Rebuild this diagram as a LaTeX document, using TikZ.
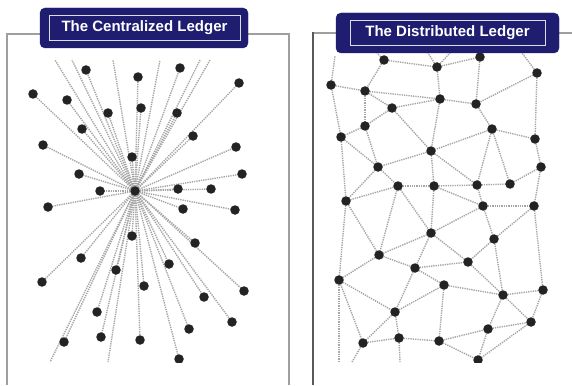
\documentclass[tikz,border=0pt]{standalone}
\usepackage{fontspec}
\setsansfont{Liberation Sans}
\usetikzlibrary{backgrounds}
\definecolor{navy}{RGB}{31,29,112}
\definecolor{dotc}{RGB}{35,35,35}
\definecolor{linkc}{RGB}{165,165,165}
\tikzset{
  dotnode/.style={circle,fill=dotc,draw=none,minimum size=9.5pt,inner sep=0pt},
  link/.style={draw=linkc,line width=1.4pt,dash pattern=on 1.3pt off 1pt},
  titlebox/.style={fill=navy,draw=navy,rounded corners=5pt},
  titleinner/.style={draw=white!85!navy,line width=0.8pt},
  titletext/.style={text=white,font=\sffamily\bfseries\fontsize{15}{17}\selectfont},
  lightframe/.style={draw=gray!75,line width=1.4pt},
  darkframe/.style={draw=black!65,line width=1.8pt}
}
\begin{document}
\begin{tikzpicture}[x=1pt,y=-1pt]
\useasboundingbox[fill=white] (0,0) rectangle (572,385);
% frames
\draw[lightframe] (7,385) -- (7,34) -- (289,34) -- (289,385);
\draw[lightframe] (313,33) -- (572,33);
\draw[darkframe] (313,385) -- (313,32);

\begin{scope}
\clip (0,0) rectangle (572,362);
% ---------- centralized ----------
\coordinate (hub) at (135,191);
\foreach \n/\x/\y in {1/86/70,2/138/77,3/180/68,4/239/83,5/33/94,6/67/100,7/108/113,8/141/108,
  9/177/113,10/82/129,11/193/136,12/43/145,13/236/147,14/132/157,15/79/174,16/242/174,
  17/100/191,18/178/189,19/211/189,20/48/207,21/183/209,22/235/210,23/132/236,24/195/243,
  25/81/258,26/116/270,27/169/264,28/42/282,29/144/286,30/244/291,31/204/297,32/97/312,
  33/232/322,34/189/329,35/101/337,36/140/340,37/64/342,38/179/359}
  {\coordinate (c\n) at (\x,\y);}
\coordinate (ct1) at (55,60);
\coordinate (ct2) at (72,60);
\coordinate (ct3) at (113,60);
\coordinate (ct4) at (160,60);
\coordinate (ct5) at (200,60);
\coordinate (ct6) at (210,60);
\coordinate (cb1) at (50,362);
\coordinate (cb2) at (108,362);
\foreach \n in {1,...,38} {\draw[link] (hub) -- (c\n);}
\foreach \e in {ct1,ct2,ct3,ct4,ct5,ct6,cb1,cb2} {\draw[link] (hub) -- (\e);}
\foreach \n in {1,...,38} {\node[dotnode] (cn\n) at (c\n) {};}
\node[dotnode] (hubnode) at (hub) {};

% ---------- distributed ----------
\foreach \n/\x/\y in {1/384/60,2/437/67,3/480/57,4/537/73,5/331/85,6/365/91,7/440/99,8/476/104,
  9/392/108,10/365/126,11/492/129,12/341/137,13/535/139,14/431/151,15/378/167,16/541/167,
  17/398/186,18/434/186,19/477/185,20/510/184,21/346/201,22/483/206,23/534/206,24/431/233,
  25/494/239,26/379/255,27/468/262,28/415/268,29/339/280,30/444/285,31/503/295,32/543/290,
  33/395/312,34/531/322,35/488/329,36/399/338,37/439/341,38/363/343,39/478/360}
  {\coordinate (r\n) at (\x,\y);}
\coordinate (rt1) at (335,56);
\coordinate (rt2) at (377,53);
\coordinate (rt3) at (428,53);
\coordinate (rt4) at (450,53);
\coordinate (rt5) at (522,53);
\coordinate (rb1) at (339,362);
\coordinate (rb2) at (352,362);
\coordinate (rb3) at (400,362);
\foreach \a/\b in {1/2,1/6,5/6,5/12,6/7,6/9,6/10,9/7,9/10,9/14,2/7,10/12,10/15,12/15,12/21,
  2/3,3/8,4/8,4/13,7/8,8/11,11/13,11/14,11/19,11/20,7/14,13/16,16/20,16/23,19/20,17/18,
  14/18,14/15,15/17,15/21,17/21,17/24,17/26,18/24,18/19,18/22,19/22,14/19,21/26,21/29,
  24/26,24/22,24/27,24/28,22/23,22/25,23/25,23/32,25/27,25/31,26/28,26/29,28/27,28/30,
  28/33,29/33,29/38,33/30,33/38,33/36,38/36,36/37,30/37,30/31,27/31,31/32,31/34,32/34,
  31/35,35/34,37/35,35/39,34/39,37/39}
  {\draw[link] (r\a) -- (r\b);}
\draw[link] (r5) -- (rt1);
\draw[link] (r1) -- (rt2);
\draw[link] (r2) -- (rt3);
\draw[link] (r2) -- (rt4);
\draw[link] (r4) -- (rt5);
\draw[link] (r29) -- (rb1);
\draw[link] (r38) -- (rb2);
\draw[link] (r36) -- (rb3);
\foreach \n in {1,...,39} {\node[dotnode] (rn\n) at (r\n) {};}
\end{scope}

% titles
\draw[titlebox] (40,8) rectangle (248,48);
\draw[titleinner] (49,15) rectangle (240,40);
\node[titletext] (tleft) at (144.5,28) {The Centralized Ledger};
\draw[titlebox] (336,13) rectangle (559,53);
\draw[titleinner] (350,20) rectangle (545,45);
\node[titletext] (tright) at (447.5,33) {The Distributed Ledger};
\end{tikzpicture}
\end{document}
